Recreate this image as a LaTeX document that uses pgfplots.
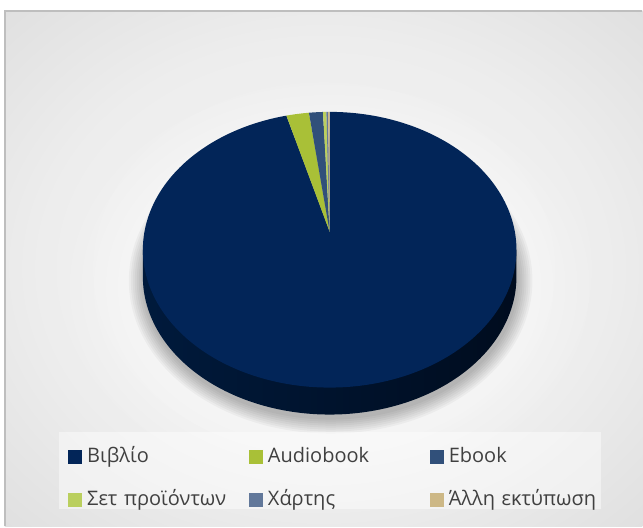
\documentclass[border=0pt]{standalone}
\usepackage{fontspec}
\setmainfont{Open Sans}
\usepackage{pgfplots}
\usepackage{pgfplotstable}
\pgfplotsset{compat=1.18}
\definecolor{cBib}{HTML}{022558}
\definecolor{cAud}{HTML}{A9C037}
\definecolor{cEbk}{HTML}{31507A}
\definecolor{cSet}{HTML}{BACF5E}
\definecolor{cXar}{HTML}{62789A}
\definecolor{cAll}{HTML}{CDB886}
\definecolor{sideL}{HTML}{001A3C}
\definecolor{sideR}{HTML}{000C1E}
\definecolor{txt}{HTML}{404040}
\definecolor{frame}{HTML}{BEBEBE}
\pgfdeclareradialshading{bgshade}{\pgfpoint{0bp}{0bp}}{%
  color(0bp)=(white!96!black); color(22bp)=(white!93!black);
  color(48bp)=(white!83!black); color(72bp)=(white!75!black);
  color(100bp)=(white!75!black)}

\pgfplotstableread[col sep=comma]{
label,value
Bivlio,96.28
Audiobook,1.95
Ebook,1.20
Set,0.29
Xartis,0.14
Alli,0.14
}\piedata
\pgfplotstablegetelem{0}{value}\of\piedata \pgfmathsetmacro\eA{3.6*\pgfplotsretval}
\pgfplotstablegetelem{1}{value}\of\piedata \pgfmathsetmacro\eB{\eA+3.6*\pgfplotsretval}
\pgfplotstablegetelem{2}{value}\of\piedata \pgfmathsetmacro\eC{\eB+3.6*\pgfplotsretval}
\pgfplotstablegetelem{3}{value}\of\piedata \pgfmathsetmacro\eD{\eC+3.6*\pgfplotsretval}
\pgfplotstablegetelem{4}{value}\of\piedata \pgfmathsetmacro\eE{\eD+3.6*\pgfplotsretval}
\pgfplotstablegetelem{5}{value}\of\piedata \pgfmathsetmacro\eF{\eE+3.6*\pgfplotsretval}

\pgfplotsset{
  sq legend/.style={legend image code/.code={%
    \fill[##1,draw=none] (0pt,-5.25pt) rectangle (10.5pt,5.25pt);
    \path (14.25pt,0pt);}},
}

\begin{document}
\begin{tikzpicture}
\begin{axis}[
  width=482.25pt, height=395.25pt, scale only axis,
  xmin=0, xmax=643, ymin=0, ymax=527,
  axis lines=none, clip=false,
  legend columns=3,
  legend cell align=left,
  legend style={draw=none, fill=none, inner sep=0pt,
    at={(axis cs:68,79)}, anchor=north west,
    column sep=0pt, row sep=18.5pt,
    font=\fontsize{15pt}{18pt}\selectfont\color{txt},
    nodes={text width=121.5pt, inner xsep=0pt, inner ysep=0pt,
      text height=11pt, text depth=3pt, align=left}},
]
% background
\fill[white] (axis cs:0,0) rectangle (axis cs:643,527);
\shade[shading=bgshade] (axis cs:5,0) rectangle (axis cs:643,516);
\draw[frame, line width=1pt] (axis cs:5,0) -- (axis cs:5,516) -- (axis cs:643,516);
% light glow around the pie
\pgfplotsinvokeforeach{0,...,5}{
  \fill[white, opacity=0.09] (axis cs:330,240) ellipse [x radius={200+12*#1}, y radius={152+10*#1}];
}
% shadow under pie
\pgfplotsinvokeforeach{0,...,7}{
  \fill[black, opacity=0.035] (axis cs:331,246) ellipse [x radius={188+2*#1}, y radius={139+2*#1}];
}
% legend background box
\fill[white, opacity=0.45] (axis cs:59,17) rectangle (axis cs:602,95);
% side of the pie
\addplot[forget plot, draw=none, left color=sideL, right color=sideR, domain=90:270, samples=120]
  ({330+187*sin(x)}, {250+138*cos(x)}) -- (axis cs:143,277) -- (axis cs:517,277) -- cycle;
% slices
\addplot[sq legend, fill=cBib, draw=none, domain=0:\eA, samples=200]
  ({330+187*sin(x)}, {277+138*cos(x)}) -- (axis cs:330,295) -- cycle;
\addlegendentry{Βιβλίο}
\addplot[sq legend, fill=cAud, draw=none, domain=\eA:\eB, samples=6]
  ({330+187*sin(x)}, {277+138*cos(x)}) -- (axis cs:330,295) -- cycle;
\addlegendentry{Audiobook}
\addplot[sq legend, fill=cEbk, draw=none, domain=\eB:\eC, samples=5]
  ({330+187*sin(x)}, {277+138*cos(x)}) -- (axis cs:330,295) -- cycle;
\addlegendentry{Ebook}
\addplot[sq legend, fill=cSet, draw=none, domain=\eC:\eD, samples=3]
  ({330+187*sin(x)}, {277+138*cos(x)}) -- (axis cs:330,295) -- cycle;
\addlegendentry{Σετ προϊόντων}
\addplot[sq legend, fill=cXar, draw=none, domain=\eD:\eE, samples=3]
  ({330+187*sin(x)}, {277+138*cos(x)}) -- (axis cs:330,295) -- cycle;
\addlegendentry{Χάρτης}
\addplot[sq legend, fill=cAll, draw=none, domain=\eE:\eF, samples=3]
  ({330+187*sin(x)}, {277+138*cos(x)}) -- (axis cs:330,295) -- cycle;
\addlegendentry{Άλλη εκτύπωση}
\end{axis}
\end{tikzpicture}
\end{document}
